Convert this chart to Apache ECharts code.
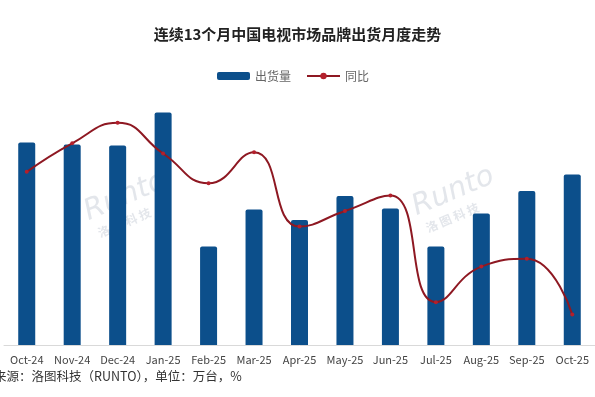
<!DOCTYPE html>
<html>
<head>
<meta charset="utf-8">
<script src="https://cdn.jsdelivr.net/npm/echarts@6/dist/echarts.min.js"></script>
<style>
  html, body { margin: 0; padding: 0; background: #fff; }
  #chart { width: 595px; height: 397px; }
</style>
</head>
<body>
<div id="chart"></div>
<script>
// months
const months = ['Oct-24', 'Nov-24', 'Dec-24', 'Jan-25', 'Feb-25', 'Mar-25', 'Apr-25',
  'May-25', 'Jun-25', 'Jul-25', 'Aug-25', 'Sep-25', 'Oct-25'];
// 出货量 (万台)
const shipments = [405, 401, 399, 465, 197, 271, 250, 298, 273, 197, 263, 308, 341];
// 同比 (%)
const yoy = [2.4, 9.4, 14.4, 6.9, -0.4, 7.2, -11.0, -7.2, -3.4, -29.5, -20.8, -18.9, -32.5];

const font = '"Noto Sans CJK SC", "Noto Sans", sans-serif';
const chart = echarts.init(document.getElementById('chart'));

// faint Runto watermark
const wm = (x, y) => ({
  type: 'group',
  x: x, y: y,
  rotation: 0.4,
  silent: true,
  children: [
    { type: 'text', x: 0, y: 0, style: { text: 'Runto', font: 'italic 300 29px "DejaVu Sans", sans-serif', fill: 'rgba(200,206,216,0.5)' } },
    { type: 'text', x: 4, y: 32, style: { text: '洛 图 科 技', font: 'bold 12px ' + font, fill: 'rgba(200,206,216,0.5)' } }
  ]
});

chart.setOption({
  backgroundColor: '#fff',
  animation: false,
  title: {
    text: '连续13个月中国电视市场品牌出货月度走势',
    left: 'center',
    top: 22,
    textStyle: { fontFamily: font, fontSize: 15, fontWeight: 'bold', color: '#222' }
  },
  legend: {
    left: 212,
    top: 65,
    itemWidth: 33,
    itemHeight: 8,
    itemGap: 15,
    textStyle: { fontFamily: font, fontSize: 12, color: '#666' },
    data: [
      { name: '出货量', icon: 'roundRect' },
      { name: '同比' }
    ]
  },
  graphic: [
    wm(80, 200),
    wm(408, 195),
    {
      type: 'text',
      left: -6,
      top: 370,
      style: { text: '来源：洛图科技（RUNTO），单位：万台，%', font: '12.5px ' + font, fill: '#333' }
    }
  ],
  grid: { left: 4, right: 0, top: 100, bottom: 52 },
  xAxis: {
    type: 'category',
    data: months,
    axisLine: { lineStyle: { color: '#d9d9d9' } },
    axisTick: { show: false },
    axisLabel: { fontFamily: font, fontSize: 11, color: '#444', margin: 9, interval: 0 }
  },
  yAxis: [
    { type: 'value', min: 0, max: 490, show: false },
    { type: 'value', min: -40, max: 20, show: false }
  ],
  series: [
    {
      name: '出货量',
      type: 'bar',
      data: shipments,
      barWidth: 17,
      itemStyle: { color: '#0c4f8b', borderRadius: [2, 2, 0, 0] }
    },
    {
      name: '同比',
      type: 'line',
      yAxisIndex: 1,
      data: yoy,
      smooth: 0.5,
      symbol: 'circle',
      symbolSize: 4,
      lineStyle: { color: '#8e1822', width: 2 },
      itemStyle: { color: '#b3202c' },
      z: 5
    }
  ]
});
</script>
</body>
</html>
